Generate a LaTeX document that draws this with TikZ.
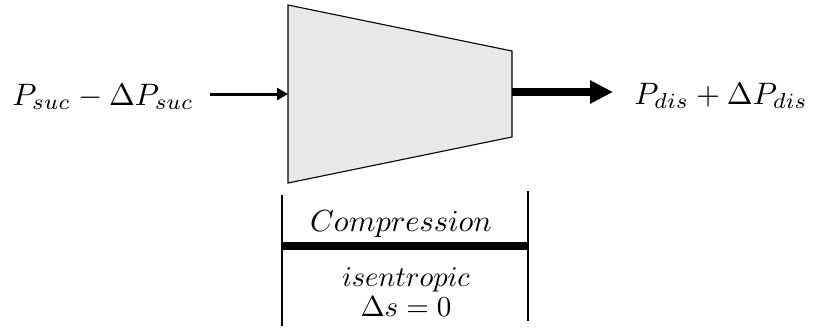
\documentclass[tikz,border=0pt]{standalone}
\usetikzlibrary{arrows.meta}
\definecolor{bodyfill}{HTML}{E8E8E8}
\tikzset{
  big/.style={inner sep=0pt, scale=3.1},
  mid/.style={inner sep=0pt, scale=3.05},
  small/.style={inner sep=0pt, scale=2.85},
  eqn/.style={inner sep=0pt, scale=2.9},
  thinarrow/.style={line width=3pt, -{Triangle[length=11pt,width=12pt]}},
  thickarrow/.style={line width=7.5pt, -{Triangle[length=23pt,width=22pt]}},
  bodyline/.style={line width=1.1pt, draw=black, fill=bodyfill, line join=miter},
  tick/.style={line width=1.5pt},
  bar/.style={line width=8pt}
}
\begin{document}
\begin{tikzpicture}[x=1pt,y=-1pt]
\useasboundingbox (0,0) rectangle (815,330);
% compressor body
\coordinate (tl) at (288,5);
\coordinate (bl) at (288,183);
\coordinate (tr) at (512,51);
\coordinate (br) at (512,137);
\coordinate (in) at (288,94);
\coordinate (out) at (512,92);
\draw[bodyline] (tl) -- (tr) -- (br) -- (bl) -- cycle;
% labels
\node[big] (lhs) at (103,97) {$P_{suc}-\Delta P_{suc}$};
\node[big] (rhs) at (721,96) {$P_{dis}+\Delta P_{dis}$};
\coordinate (a0) at (210,94);
\coordinate (a1) at (613,92);
\draw[thinarrow] (a0) -- (in);
\draw[thickarrow] (out) -- (a1);
% bracket
\coordinate (lt) at (282,195);
\coordinate (lb) at (282,326);
\coordinate (rt) at (528,191);
\coordinate (rb) at (528,321);
\coordinate (bl0) at (282,246);
\coordinate (br0) at (528,246);
\draw[tick] (lt) -- (lb);
\draw[tick] (rt) -- (rb);
\draw[bar] (bl0) -- (br0);
\node[mid] (comp) at (401,224) {$Compression$};
\node[small] (isen) at (406,280) {$isentropic$};
\node[eqn] (ds) at (406,307) {$\Delta s=0$};
\end{tikzpicture}
\end{document}
